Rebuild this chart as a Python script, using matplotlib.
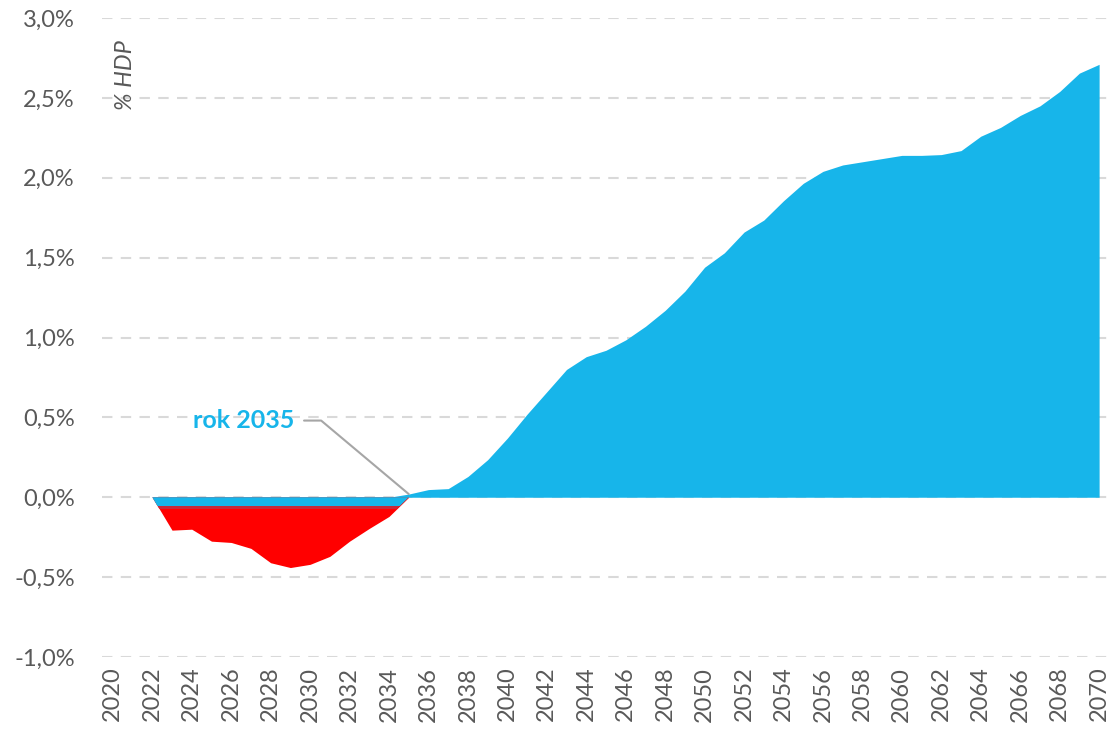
import matplotlib.pyplot as plt
import numpy as np

# % HDP, roky 2022-2070
years = np.arange(2022, 2071)
values = [0.0, -0.206, -0.20, -0.275, -0.283, -0.32, -0.41, -0.44, -0.42, -0.37,
          -0.275, -0.195, -0.12, 0.02, 0.048, 0.054, 0.13, 0.235, 0.37, 0.52,
          0.66, 0.80, 0.88, 0.92, 0.985, 1.07, 1.17, 1.29, 1.44, 1.53,
          1.66, 1.735, 1.856, 1.965, 2.04, 2.08, 2.10, 2.12, 2.14, 2.14,
          2.145, 2.17, 2.26, 2.315, 2.39, 2.45, 2.54, 2.655, 2.71]
band_blue = -0.055
band_dark = -0.075

blue = '#17B5EA'
red = '#FF0000'
dark_red = '#C9283A'
gray = '#595959'

plt.rcParams['font.family'] = ['Lato', 'DejaVu Sans']

fig = plt.figure(figsize=(11.11, 7.33), dpi=100)
ax = fig.add_axes([102 / 1111, (733 - 657) / 733, 1006 / 1111, (657 - 18) / 733])

v = np.array(values)
neg = years <= 2035
vn = np.minimum(v[neg], 0)
ax.fill_between(years, 0, np.clip(v, 0, None), color=blue, lw=0, zorder=3)
# zaporna cast: cervena plocha, pres ni pruhy orezane jejim tvarem
red_poly = ax.fill_between(years[neg], 0, vn, color=red, lw=0, zorder=3)
clip = red_poly.get_paths()[0]
dark = ax.fill_between(years[neg], band_dark, 0, color=dark_red, lw=0, zorder=4)
dark.set_clip_path(clip, ax.transData)
top = ax.fill_between(years[neg], band_blue, 0, color=blue, lw=0, zorder=5)
top.set_clip_path(clip, ax.transData)

ax.set_xlim(2019.45, 2070.45)
ax.set_ylim(-1.0, 3.0)
ax.set_yticks(np.arange(-1.0, 3.01, 0.5))
ax.set_yticklabels([f'{t:.1f}%'.replace('.', ',') for t in np.arange(-1.0, 3.01, 0.5)])
ax.set_xticks(np.arange(2020, 2071, 2))
ax.set_xticklabels([str(y) for y in range(2020, 2071, 2)], rotation=90)
ax.tick_params(axis='both', length=0, labelsize=17, colors=gray)
ax.tick_params(axis='y', pad=19.5)
ax.tick_params(axis='x', pad=7)
for s in ax.spines.values():
    s.set_visible(False)
ax.grid(axis='y', color='#D9D9D9', lw=1.5, ls=(0, (5, 4)), zorder=0)
ax.set_axisbelow(True)

ax.text(2020.65, 2.64, '% HDP', rotation=90, style='italic', fontsize=17,
        color=gray, ha='center', va='center')

ax.annotate('rok 2035', xy=(2035, 0.02), xytext=(2029.2, 0.48),
            ha='right', va='center', fontsize=18, fontweight='bold', color=blue,
            arrowprops=dict(arrowstyle='-', color='#A6A6A6', lw=1.5,
                            connectionstyle='angle,angleA=0,angleB=140,rad=0',
                            shrinkA=5, shrinkB=0))

fig.savefig('out.png', dpi=100)
